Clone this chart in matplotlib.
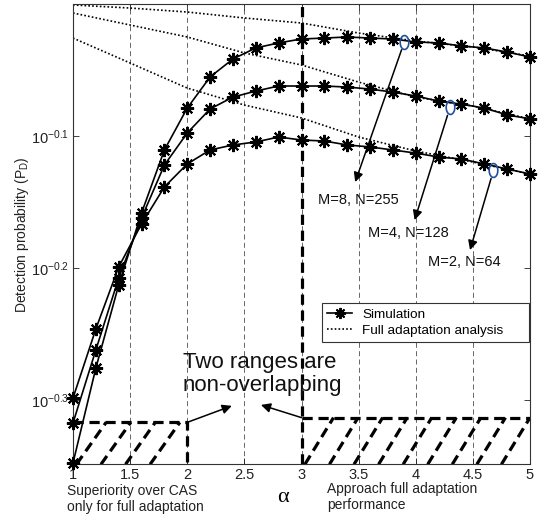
import numpy as np
import matplotlib
matplotlib.use('Agg')
import matplotlib.pyplot as plt
from matplotlib.path import Path
from matplotlib.ticker import FixedLocator, NullLocator

plt.rcParams['font.family'] = ['Liberation Sans', 'DejaVu Sans']
plt.rcParams['mathtext.fontset'] = 'custom'
plt.rcParams['mathtext.rm'] = 'Liberation Sans'
plt.rcParams['mathtext.it'] = 'Liberation Sans:italic'
plt.rcParams['mathtext.bf'] = 'Liberation Sans:bold'

# ---------------- data ----------------
alpha = [1.0, 1.2, 1.4, 1.6, 1.8, 2.0, 2.2, 2.4, 2.6, 2.8, 3.0,
         3.2, 3.4, 3.6, 3.8, 4.0, 4.2, 4.4, 4.6, 4.8, 5.0]
pd_m8 = [0.4490, 0.5299, 0.6125, 0.6945, 0.7752, 0.8340, 0.8805, 0.9085, 0.9262, 0.9344, 0.9408,
         0.9423, 0.9441, 0.9423, 0.9408, 0.9359, 0.9344, 0.9294, 0.9262, 0.9196, 0.9117]
pd_m4 = [0.4815, 0.5469, 0.6200, 0.6885, 0.7551, 0.7985, 0.8327, 0.8501, 0.8591, 0.8667, 0.8667,
         0.8667, 0.8651, 0.8621, 0.8575, 0.8517, 0.8442, 0.8397, 0.8340, 0.8241, 0.8184]
pd_m2 = [0.5029, 0.5673, 0.6321, 0.6813, 0.7268, 0.7565, 0.7752, 0.7820, 0.7861, 0.7929, 0.7888,
         0.7874, 0.7820, 0.7793, 0.7752, 0.7710, 0.7657, 0.7631, 0.7565, 0.7499, 0.7434]

alpha_analysis = [1.0, 1.5, 2.0, 2.5, 3.0, 3.5, 4.0, 4.5, 5.0]
fa_m8 = [0.9983, 0.9930, 0.9861, 0.9759, 0.9674, 0.9506, 0.9375, 0.9277, 0.9134]
fa_m4 = [0.9844, 0.9640, 0.9441, 0.9181, 0.8991, 0.8726, 0.8501, 0.8369, 0.8184]
fa_m2 = [0.9423, 0.9022, 0.8636, 0.8384, 0.8197, 0.7929, 0.7738, 0.7591, 0.7434]

xticks = [1, 1.5, 2, 2.5, 3, 3.5, 4, 4.5, 5]
xtick_labels = ['1', '1.5', '2', '2.5', '3', '3.5', '4', '4.5', '5']
yticks = [10 ** -0.3, 10 ** -0.2, 10 ** -0.1]
ytick_labels = [r'$10^{-0.3}$', r'$10^{-0.2}$', r'$10^{-0.1}$']
curve_labels = ['M=8, N=255', 'M=4, N=128', 'M=2, N=64']
legend_labels = ['Simulation', 'Full adaptation analysis']

# annotation anchors (alpha, P_D)
ellipse_pts = [(3.90, 0.936), (4.30, 0.835), (4.68, 0.748)]
arrow_heads = [(3.47, 0.733), (3.99, 0.686), (4.475, 0.651)]
label_px = [(318, 200), (368, 233), (428, 262)]

left_region = (1.0, 2.0, 0.482)
right_region = (3.0, 5.0, 0.486)

# ---------------- figure ----------------
W, H = 542, 519
fig = plt.figure(figsize=(W / 100, H / 100), dpi=100)
ylo, yhi = 0.448, 1.0
ax = fig.add_axes([73 / W, 1 - 464.3 / H, 457 / W, 460.3 / H])
ax.set_yscale('log')
ax.set_xlim(1, 5)
ax.set_ylim(ylo, yhi)

ax.xaxis.set_major_locator(FixedLocator(xticks))
ax.set_xticklabels(xtick_labels)
ax.yaxis.set_major_locator(FixedLocator(yticks))
ax.yaxis.set_minor_locator(NullLocator())
ax.set_yticklabels(ytick_labels)
ax.tick_params(axis='both', which='both', direction='in', length=4, width=0.6,
               top=True, right=True, labelsize=10.5, colors='#222222')
ax.tick_params(axis='x', pad=3)
ax.tick_params(axis='y', pad=3)
for s in ax.spines.values():
    s.set_linewidth(0.8)
    s.set_color('#333333')

ax.grid(True, axis='x', color='0.3', lw=0.6, ls=(0, (6, 4)), zorder=1)

# analysis (dotted)
for fa in (fa_m8, fa_m4, fa_m2):
    ax.plot(alpha_analysis, fa, color='k', lw=1.2, ls=(0, (1, 1.3)), zorder=2)

# simulation
for pdv in (pd_m8, pd_m4, pd_m2):
    ax.plot(alpha, pdv, color='k', lw=1.2, marker=(8, 2, 0), ms=9.5, mew=1.5, zorder=4,
            clip_on=False)

# thick dashed region markings
tk = dict(color='k', lw=2.3, ls=(0, (3.2, 1.8)), zorder=3)
ax.axvline(3.0, **tk)
x0, x1, ytop = left_region
ax.plot([x0, x1, x1], [ytop, ytop, ylo], **tk)
x0r, x1r, ytopr = right_region
ax.plot([x0r, x1r], [ytopr, ytopr], **tk)
step, slant = 0.215, 0.26
for xb in np.arange(1.03, 1.70, step):
    ax.plot([xb, xb + slant], [ylo, ytop], **tk)
for xb in np.arange(3.03, 4.76, step):
    ax.plot([xb, xb + 0.25], [ylo, ytopr], **tk)

# ellipses and arrows
t = np.linspace(0, 2 * np.pi, 60)
ell = Path(np.column_stack([0.62 * np.cos(t), np.sin(t)]))
for (ex, ey), (hx, hy) in zip(ellipse_pts, arrow_heads):
    ax.plot([ex], [ey], marker=ell, ms=10, mfc='none', mec='#1f4f9f', mew=1.2, zorder=5)
    ax.annotate('', xy=(hx, hy), xytext=(ex, ey),
                arrowprops=dict(arrowstyle='-|>', color='k', lw=1.1,
                                mutation_scale=14, shrinkA=6, shrinkB=0), zorder=5)
for (px, py), lab in zip(label_px, curve_labels):
    fig.text(px / W, 1 - py / H, lab, fontsize=10.5, ha='left', va='center', color='#111111')

# "two ranges" arrows
ax.annotate('', xy=(2.39, 0.4961), xytext=(x1, ytop),
            arrowprops=dict(arrowstyle='-|>', color='k', lw=1.1, mutation_scale=14,
                            shrinkA=0, shrinkB=0))
ax.annotate('', xy=(2.645, 0.4969), xytext=(x0r, ytopr),
            arrowprops=dict(arrowstyle='-|>', color='k', lw=1.1, mutation_scale=14,
                            shrinkA=0, shrinkB=0))
fig.text(183 / W, 1 - 352 / H, 'Two ranges are\nnon-overlapping', fontsize=16,
         ha='left', va='top', linespacing=1.12, color='#111111')

# legend
h1, = ax.plot([], [], color='k', lw=1.2, marker=(8, 2, 0), ms=8, mew=1.4)
h2, = ax.plot([], [], color='k', lw=1.2, ls=(0, (1, 1.3)))
lx0 = (322 - 73) / 457
lw_ = (529 - 322) / 457
leg = ax.legend([h1, h2], legend_labels, loc='upper left', mode='expand',
                bbox_to_anchor=(lx0, 0.0, lw_, 0.3504), borderaxespad=0, fontsize=9.7,
                frameon=True, fancybox=False, edgecolor='#333333', framealpha=1,
                handlelength=1.85, handletextpad=0.75, labelspacing=0.25, borderpad=0.4,
                numpoints=1)
leg.get_frame().set_linewidth(0.8)
leg.set_zorder(6)

# axis labels
ax.set_ylabel(r'Detection probability (P$_{\rm D}$)', fontsize=10, color='#222222')
ax.yaxis.set_label_coords((22 - 73) / 457, 0.5)
ax.yaxis.label.set_va('center')
fig.text(283 / W, 1 - 498 / H, 'α', fontsize=16, ha='center', va='center',
         family=['Liberation Serif', 'DejaVu Serif'])

fig.text(67 / W, 1 - 484 / H, 'Superiority over CAS\nonly for full adaptation',
         fontsize=10, ha='left', va='top', linespacing=1.15, color='#222222')
fig.text(327 / W, 1 - 482.5 / H, 'Approach full adaptation\nperformance',
         fontsize=10, ha='left', va='top', linespacing=1.15, color='#222222')

fig.savefig('out.png', dpi=100)
